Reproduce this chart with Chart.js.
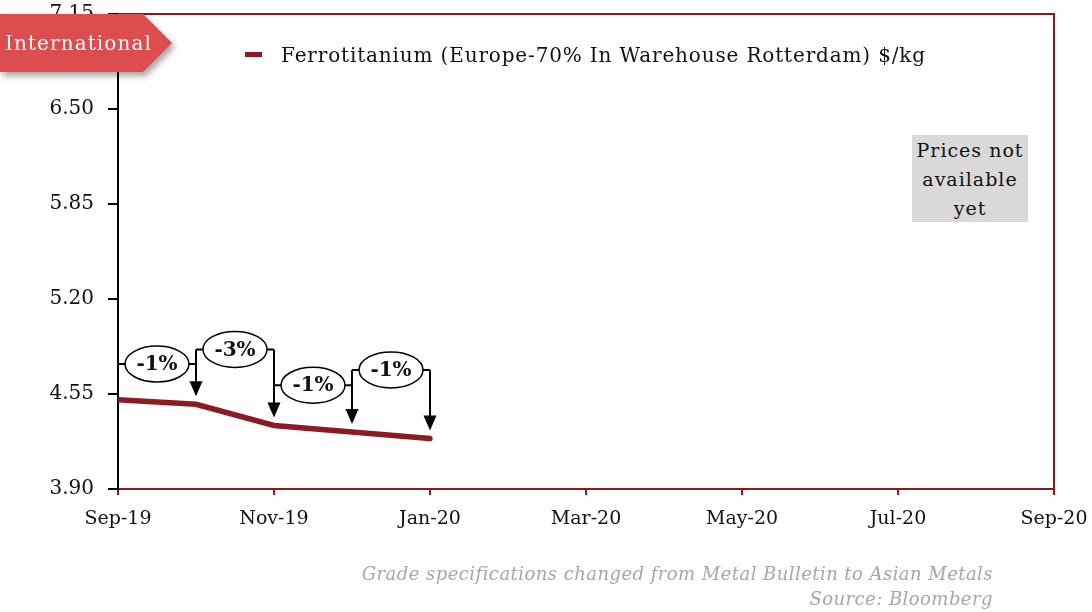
<!DOCTYPE html>
<html><head><meta charset="utf-8">
<script src="https://cdn.jsdelivr.net/npm/chart.js@4.4.0/dist/chart.umd.min.js"></script>
<style>
html,body{margin:0;padding:0;background:#fff;}
#wrap{position:relative;width:1092px;height:612px;overflow:hidden;font-family:'DejaVu Serif',serif;}
#c{position:absolute;left:0;top:0;}
#tag{position:absolute;left:0;top:14px;filter:drop-shadow(3px 4px 3px rgba(0,0,0,0.35));}
#tagShape{width:172px;height:58px;background:#DB4D4E;clip-path:polygon(0 0,143px 0,172px 29px,143px 58px,0 58px);color:#fff;font-size:20px;line-height:58px;padding-left:5px;box-sizing:border-box;letter-spacing:1.1px;white-space:nowrap;}
#legend{position:absolute;left:245px;top:42px;font-size:20px;color:#111;white-space:nowrap;line-height:26px;letter-spacing:0.85px;}
#legend .dash{display:inline-block;width:17px;height:5px;background:#8C1A23;vertical-align:middle;margin-right:19px;position:relative;top:-2px;}
#na{position:absolute;left:912px;top:135px;width:116px;height:87px;background:#D9D9D9;color:#111;font-size:19px;line-height:29px;text-align:center;padding-top:1px;box-sizing:border-box;letter-spacing:1px;}
.foot{position:absolute;right:99px;color:#A6A6A6;font-style:italic;font-size:18px;white-space:nowrap;letter-spacing:0.45px;}
</style></head>
<body>
<div id="wrap">
<canvas id="c" width="1092" height="612"></canvas>
<div id="tag"><div id="tagShape">International</div></div>
<div id="legend"><span class="dash"></span><span id="legText"></span></div>
<div id="na">Prices not<br>available<br>yet</div>
<div class="foot" style="top:563px;">Grade specifications changed from Metal Bulletin to Asian Metals</div>
<div class="foot" style="top:588px;">Source: Bloomberg</div>
</div>
<script>
const months = ['Sep-19','Oct-19','Nov-19','Dec-19','Jan-20','Feb-20','Mar-20','Apr-20','May-20','Jun-20','Jul-20','Aug-20','Sep-20'];
const prices = [4.51, 4.48, 4.335, 4.29, 4.245];
const yTicks = [3.90, 4.55, 5.20, 5.85, 6.50, 7.15];
const xTickIdx = [0, 2, 4, 6, 8, 10, 12];
const changeLabels = ['-1%', '-3%', '-1%', '-1%'];
const bracketLevels = [4.755, 4.855, 4.61, 4.715];
const seriesName = 'Ferrotitanium (Europe-70% In Warehouse Rotterdam) $/kg';

document.getElementById('legText').textContent = seriesName;

const RED = '#8C1A23';
const AXRED = '#8B1A1A';

const frame = {
  id: 'frame',
  afterDraw(chart) {
    const {ctx, chartArea: a} = chart;
    ctx.save();
    ctx.strokeStyle = AXRED; ctx.lineWidth = 2;
    ctx.beginPath();
    ctx.moveTo(a.left, a.top); ctx.lineTo(a.right, a.top); ctx.lineTo(a.right, a.bottom);
    ctx.stroke();
    ctx.restore();
  }
};

const brackets = {
  id: 'brackets',
  afterDatasetsDraw(chart) {
    const {ctx} = chart;
    const xs = chart.scales.x, ys = chart.scales.y;
    ctx.save();
    for (let i = 0; i < changeLabels.length; i++) {
      const x0 = xs.getPixelForValue(i), x1 = xs.getPixelForValue(i + 1);
      const ly = ys.getPixelForValue(bracketLevels[i]);
      const tip = ys.getPixelForValue(prices[i + 1]) - 8;
      ctx.strokeStyle = '#000'; ctx.lineWidth = 2;
      ctx.beginPath();
      ctx.moveTo(x0, ly); ctx.lineTo(x1, ly);
      ctx.moveTo(x1, ly); ctx.lineTo(x1, tip - 12);
      if (i > 0) {
        const prevTip = ys.getPixelForValue(prices[i]) - 8;
        ctx.moveTo(x0, ly); ctx.lineTo(x0, prevTip - 12);
      }
      ctx.stroke();
      ctx.fillStyle = '#000';
      ctx.beginPath();
      ctx.moveTo(x1 - 6.5, tip - 15); ctx.lineTo(x1 + 6.5, tip - 15); ctx.lineTo(x1, tip);
      ctx.closePath(); ctx.fill();
      const cx = (x0 + x1) / 2;
      ctx.beginPath();
      ctx.ellipse(cx, ly, 32, 18, 0, 0, Math.PI * 2);
      ctx.fillStyle = '#fff'; ctx.fill();
      ctx.lineWidth = 1.5; ctx.stroke();
      ctx.fillStyle = '#111';
      ctx.font = 'bold 20px "DejaVu Serif", serif';
      ctx.textAlign = 'center'; ctx.textBaseline = 'middle';
      ctx.fillText(changeLabels[i], cx, ly + 1);
    }
    ctx.restore();
  }
};

new Chart(document.getElementById('c'), {
  type: 'line',
  data: {
    datasets: [{
      label: seriesName,
      data: prices.map((v, i) => ({x: i, y: v})),
      borderColor: RED,
      backgroundColor: RED,
      borderWidth: 5.5,
      pointRadius: 0,
      tension: 0,
      borderCapStyle: 'round'
    }]
  },
  options: {
    responsive: false,
    animation: false,
    devicePixelRatio: 1,
    layout: {padding: {left: 0, right: 38, top: 14, bottom: 0}},
    plugins: {legend: {display: false}, tooltip: {enabled: false}},
    scales: {
      x: {
        type: 'linear', min: 0, max: 12,
        afterBuildTicks(s) { s.ticks = xTickIdx.map(v => ({value: v})); },
        afterFit(s) { s.height = 123; s.paddingLeft = 0; s.paddingRight = 0; },
        ticks: {
          callback: v => months[v],
          color: '#111', padding: 13, maxRotation: 0,
          font: {family: 'DejaVu Serif', size: 19}
        },
        grid: {drawOnChartArea: false, drawTicks: true, tickLength: 6, color: AXRED, lineWidth: 2},
        border: {display: true, color: AXRED, width: 2}
      },
      y: {
        min: 3.9, max: 7.15,
        afterBuildTicks(s) { s.ticks = yTicks.map(v => ({value: v})); },
        afterFit(s) { s.width = 118; s.paddingTop = 0; s.paddingBottom = 0; },
        ticks: {
          callback: v => v.toFixed(2),
          color: '#111', padding: 14,
          font: {family: 'DejaVu Serif', size: 20}
        },
        grid: {drawOnChartArea: false, drawTicks: true, tickLength: 10, color: '#000', lineWidth: 2},
        border: {display: true, color: '#000', width: 2}
      }
    }
  },
  plugins: [frame, brackets]
});
</script>
</body></html>
